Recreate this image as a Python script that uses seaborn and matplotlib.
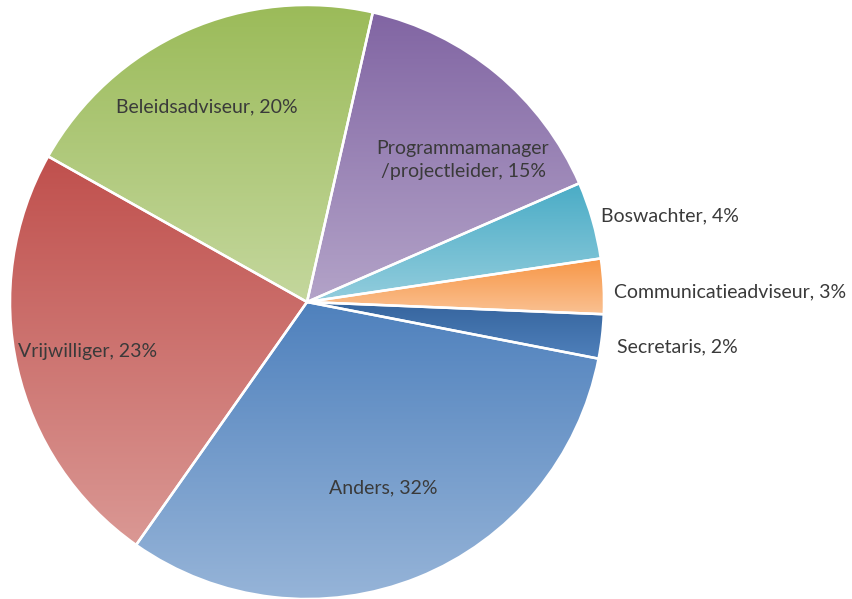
import numpy as np
import matplotlib
matplotlib.use("Agg")
import matplotlib.pyplot as plt
import seaborn as sns
from matplotlib.colors import LinearSegmentedColormap

sns.set_theme(style="white")
plt.rcParams['font.family'] = ['Lato', 'DejaVu Sans']

# data (clockwise from the top), shares
functies = ['Programmamanager\n/projectleider', 'Boswachter', 'Communicatieadviseur',
            'Secretaris', 'Anders', 'Vrijwilliger', 'Beleidsadviseur']
aandeel = [14.9, 4.2, 3.0, 2.4, 31.7, 23.4, 20.4]
kleur_boven = ['#8165a3', '#4aacc6', '#f79646', '#36659e', '#4f81bd', '#c0504d', '#9bbb59']
kleur_onder = ['#b3a3c8', '#93cddd', '#fac192', '#4f80bb', '#96b4d8', '#da9894', '#c4d79d']

# label positions in pixels (centre of text)
label_px = [(463, 160), (670, 216), (730, 292), (677, 347), (383, 488), (88, 352), (207, 107)]

W, H = 852, 599
cx, cy, R = 307, 302, 297

fig = plt.figure(figsize=(W / 100, H / 100), dpi=100)
ax = fig.add_axes([0, 0, 1, 1])

wedges, _ = ax.pie(aandeel, startangle=77.2, counterclock=False, radius=1,
                   wedgeprops=dict(edgecolor='white', linewidth=1.8, facecolor='none'))

grad = np.linspace(0, 1, 256).reshape(-1, 1)
for w, c0, c1 in zip(wedges, kleur_boven, kleur_onder):
    w.set_zorder(3)
    ext = w.get_path().get_extents()
    cmap = LinearSegmentedColormap.from_list('g', [c0, c1])
    im = ax.imshow(grad, cmap=cmap, aspect='auto', origin='upper',
                   extent=[ext.x0, ext.x1, ext.y0, ext.y1], zorder=2, interpolation='bilinear')
    im.set_clip_path(w)

for naam, pct, (px, py) in zip(functies, aandeel, label_px):
    x = (px - cx) / R
    y = (cy - py) / R
    ax.text(x, y, f"{naam}, {round(pct)}%", ha='center', va='center',
            fontsize=14, color='#3a3a3a', zorder=4, linespacing=1.45)

ax.set_xlim(-cx / R, (W - cx) / R)
ax.set_ylim(-(H - cy) / R, cy / R)
ax.set_aspect('auto')
ax.axis('off')

fig.savefig('out.png', dpi=100)
